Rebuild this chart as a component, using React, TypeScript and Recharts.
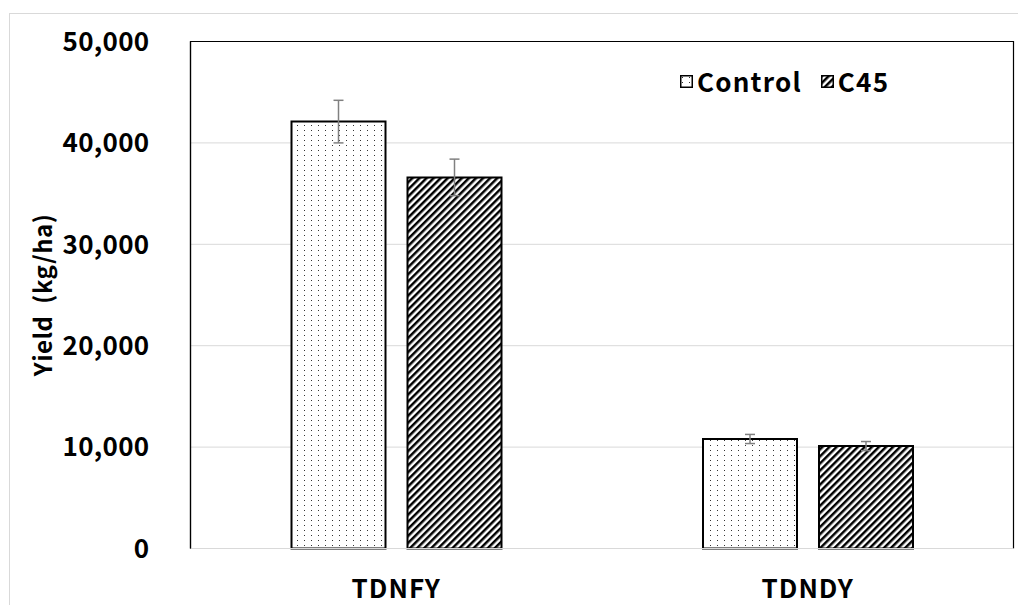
import React from "react";
import {
  BarChart,
  Bar,
  XAxis,
  YAxis,
  CartesianGrid,
  ErrorBar,
  Legend,
  ReferenceArea,
} from "recharts";

const categories = ["TDNFY", "TDNDY"];
const controlValues = [42100, 10800];
const controlErrors = [2100, 450];
const c45Values = [36600, 10100];
const c45Errors = [1800, 450];
const yTicks = [0, 10000, 20000, 30000, 40000, 50000];

const data = categories.map((name, i) => ({
  name,
  control: controlValues[i],
  controlErr: controlErrors[i],
  c45: c45Values[i],
  c45Err: c45Errors[i],
}));

const FONT = '"Noto Sans CJK KR", "Noto Sans", sans-serif';
const GRID = "#d9d9d9";

function Patterns() {
  return (
    <svg width={0} height={0} style={{ position: "absolute" }}>
      <defs>
        <pattern id="dots" width={7} height={5} patternUnits="userSpaceOnUse">
          <rect width={7} height={5} fill="#fff" />
          <rect x={2} y={2} width={1} height={1} fill="#333" />
        </pattern>
        <pattern
          id="hatch"
          width={5}
          height={5}
          patternUnits="userSpaceOnUse"
          patternTransform="rotate(45)"
        >
          <rect width={5} height={5} fill="#fff" />
          <rect width={2.5} height={5} fill="#000" />
        </pattern>
      </defs>
    </svg>
  );
}

function Swatch({ fill }: { fill: string }) {
  return (
    <svg width={13} height={13} style={{ display: "block" }}>
      <rect x={0.75} y={0.75} width={11.5} height={11.5} fill={fill} stroke="#000" strokeWidth={1.5} />
    </svg>
  );
}

function renderLegend() {
  const items = [
    { label: "Control", fill: "url(#dots)" },
    { label: "C45", fill: "url(#hatch)" },
  ];
  return (
    <div
      style={{
        display: "flex",
        alignItems: "center",
        fontFamily: FONT,
        fontWeight: 700,
        fontSize: 26,
        letterSpacing: 1.2,
        color: "#000",
        whiteSpace: "nowrap",
      }}
    >
      {items.map((it, i) => (
        <div key={it.label} style={{ display: "flex", alignItems: "center", marginLeft: i ? 19 : 0 }}>
          <Swatch fill={it.fill} />
          <span style={{ marginLeft: 4, lineHeight: "26px" }}>{it.label}</span>
        </div>
      ))}
    </div>
  );
}

// plot frame: top, left and right sides in black, bottom left to the grey axis line
function PlotFrame(props: any) {
  const { x, y, width, height } = props;
  return (
    <path
      d={`M${x},${y + height} V${y} H${x + width} V${y + height}`}
      fill="none"
      stroke="#000"
      strokeWidth={1.2}
    />
  );
}

export default function App() {
  const xTickStyle = { fontFamily: FONT, fontWeight: 700, fontSize: 26, fill: "#000", letterSpacing: 1 };
  const yTickStyle = { fontFamily: FONT, fontWeight: 700, fontSize: 26, fill: "#000", letterSpacing: 0.3 };
  return (
    <div style={{ position: "relative", width: 1010, height: 597, overflow: "hidden" }}>
      <Patterns />
      <div
        style={{
          position: "absolute",
          left: 1,
          top: 5,
          width: 1100,
          height: 700,
          border: `1px solid ${GRID}`,
        }}
      />
      <div style={{ position: "absolute", left: 0, top: 0 }}>
        <BarChart
          width={1010}
          height={597}
          data={data}
          margin={{ top: 33.5, right: 4.5, left: 0, bottom: 0 }}
          barSize={94}
          barGap={22}
        >
          <CartesianGrid vertical={false} stroke={GRID} />
          <XAxis
            dataKey="name"
            height={56.5}
            tickLine={false}
            tickSize={0}
            tickMargin={31}
            stroke={GRID}
            axisLine={{ stroke: GRID }}
            tick={xTickStyle}
          />
          <YAxis
            width={182.5}
            domain={[0, 50000]}
            ticks={yTicks}
            tickFormatter={(v: number) => v.toLocaleString("en-US")}
            tickLine={false}
            tickSize={0}
            tickMargin={41}
            stroke="#000"
            axisLine={{ stroke: "#000", strokeWidth: 1.2 }}
            tick={yTickStyle}
            label={{
              value: "Yield\u00a0\u00a0(kg/ha)",
              angle: -90,
              position: "insideLeft",
              offset: 35,
              style: { textAnchor: "middle", fontFamily: FONT, fontWeight: 700, fontSize: 24, letterSpacing: 0.5, fill: "#000" },
            }}
          />
          <ReferenceArea y1={0} y2={50000} ifOverflow="visible" shape={PlotFrame} />
          <Legend
            layout="vertical"
            align="center"
            verticalAlign="middle"
            content={renderLegend}
            wrapperStyle={{ top: 60, left: 672, width: "auto" }}
          />
          <Bar dataKey="control" name="Control" fill="url(#dots)" stroke="#000" strokeWidth={2} isAnimationActive={false}>
            <ErrorBar dataKey="controlErr" width={5} stroke="#808080" strokeWidth={1.5} />
          </Bar>
          <Bar dataKey="c45" name="C45" fill="url(#hatch)" stroke="#000" strokeWidth={2} isAnimationActive={false}>
            <ErrorBar dataKey="c45Err" width={5} stroke="#808080" strokeWidth={1.5} />
          </Bar>
        </BarChart>
      </div>
    </div>
  );
}
